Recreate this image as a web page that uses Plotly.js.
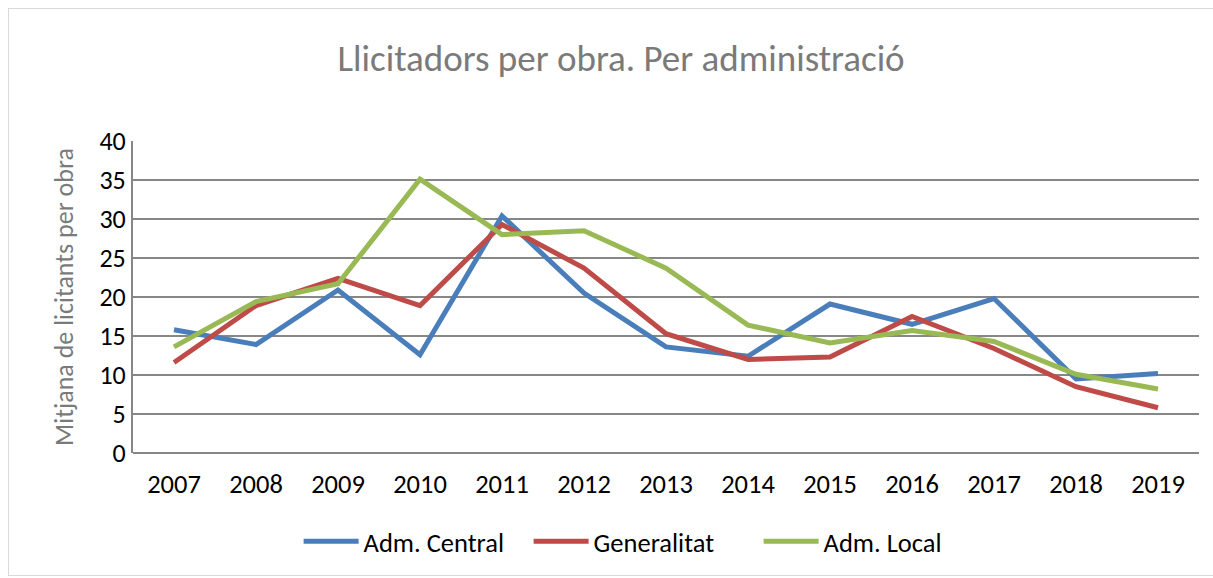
<!DOCTYPE html>
<html><head><meta charset="utf-8">
<script src="https://cdn.plot.ly/plotly-3.0.1.min.js"></script>
<style>body{margin:0;padding:0;background:#fff}#frame{position:absolute;left:8px;top:8px;width:1220px;height:566px;border:1px solid #d9d9d9;pointer-events:none}</style>
</head><body>
<div id="chart" style="width:1213px;height:578px"></div>
<div id="frame"></div>
<script>
const years = ["2007","2008","2009","2010","2011","2012","2013","2014","2015","2016","2017","2018","2019"];
const admCentral = [15.8,13.9,20.9,12.6,30.4,20.5,13.6,12.4,19.1,16.5,19.8,9.5,10.2];
const generalitat = [11.6,18.9,22.4,18.9,29.3,23.7,15.3,12.0,12.3,17.5,13.4,8.5,5.8];
const admLocal = [13.6,19.4,21.7,35.1,28.0,28.5,23.7,16.4,14.1,15.7,14.3,10.1,8.2];
const yTicks = [0,5,10,15,20,25,30,35,40];

const mk = (name, y, color) => ({x: years, y: y, name: name, type: 'scatter', mode: 'lines',
  line: {color: color, width: 5}});
const data = [mk('Adm. Central', admCentral, '#4A7EBB'), mk('Generalitat', generalitat, '#BE4B48'), mk('Adm. Local', admLocal, '#98B954')];
const font = "Carlito, Lato, 'Open Sans', sans-serif";
const layout = {
  width: 1213, height: 578,
  margin: {l: 133, r: 14, t: 141, b: 120},
  paper_bgcolor: '#fff', plot_bgcolor: '#fff',
  font: {family: font, size: 26, color: '#000'},
  title: {text: 'Llicitadors per obra. Per administració', x: 0.512, xanchor: 'center', y: 0.9, yanchor: 'middle', font: {family: font, size: 37, color: '#7a7a7a'}},
  xaxis: {type: 'category', range: [-0.5, 12.5], showgrid: false, showline: false, ticks: '', tickfont: {size: 26.5}, zeroline: false, fixedrange: true, ticklabelstandoff: 12},
  yaxis: {range: [0, 40], tickvals: yTicks, ticktext: yTicks.map(String), showgrid: true, gridcolor: '#878787', gridwidth: 2,
    showline: true, linecolor: '#878787', linewidth: 2, ticks: '',
    zeroline: true, zerolinecolor: '#878787', zerolinewidth: 2, tickfont: {size: 26},
    title: {text: 'Mitjana de licitants per obra', font: {size: 26, color: '#7a7a7a'}, standoff: 18}},
  legend: {orientation: 'h', x: 0.479, xanchor: 'center', y: -0.284, yanchor: 'middle', font: {size: 26.5}, traceorder: 'normal', itemwidth: 55, entrywidth: 160, entrywidthmode: 'pixels'},
  showlegend: true
};
Plotly.newPlot('chart', data, layout, {displayModeBar: false, staticPlot: true});
</script>
</body></html>
